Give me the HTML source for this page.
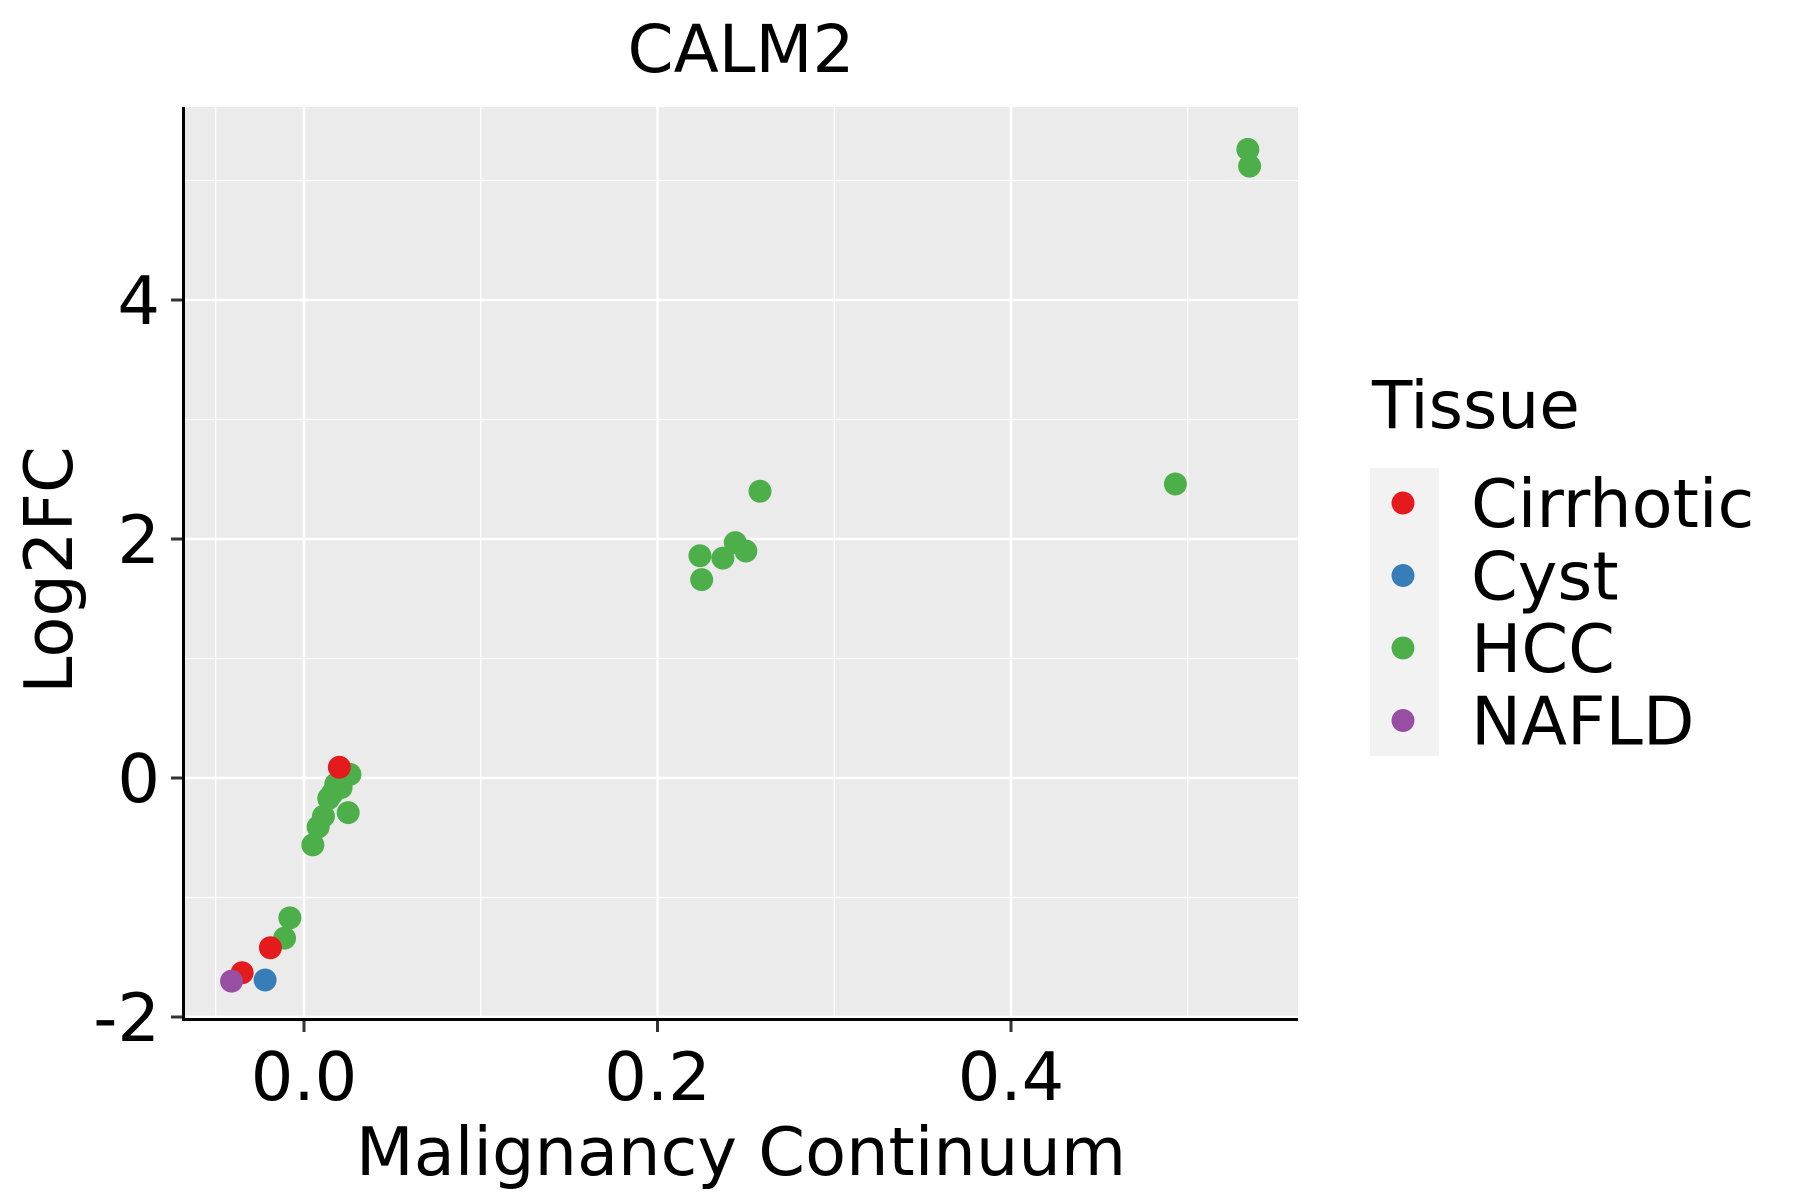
<!DOCTYPE html>
<html><head><meta charset="utf-8"><style>
html,body{margin:0;padding:0;background:#fff;}
svg{display:block;font-family:"DejaVu Sans","Liberation Sans",sans-serif;}
</style></head><body>
<svg id="chart" width="1800" height="1200" viewBox="0 0 1800 1200">
<rect x="185" y="107" width="1113" height="910" fill="#ebebeb"/>
<g id="grid"></g>
<g id="pts"></g>
<line x1="183.5" y1="107" x2="183.5" y2="1021" stroke="#000" stroke-width="3"/>
<line x1="182" y1="1019.5" x2="1298" y2="1019.5" stroke="#000" stroke-width="3"/>
<g id="ticks"></g>
<text x="741" y="72" font-size="66" text-anchor="middle">CALM2</text>
<text x="741" y="1175" font-size="67" text-anchor="middle">Malignancy Continuum</text>
<text x="72" y="570" font-size="67" text-anchor="middle" transform="rotate(-90 72 570)">Log2FC</text>
<g>
<text x="1372" y="428" font-size="66">Tissue</text>
<rect x="1370" y="468" width="69" height="288" fill="#f2f2f2"/>
<g id="leg"></g>
</g>
</svg>
<script>
const categories = ["Cirrhotic","Cyst","HCC","NAFLD"];
const colors = ["#e41a1c","#377eb8","#4daf4a","#984ea3"];
const xTicks = [0.0,0.2,0.4];
const xTickLabels = ["0.0","0.2","0.4"];
const yTicks = [-2,0,2,4];
const yTickLabels = ["-2","0","2","4"];
const hccX = [0.534,0.535,0.493,0.258,0.224,0.225,0.237,0.244,0.250,0.026,0.021,0.018,0.016,0.014,0.011,0.008,0.005,0.025,-0.008,-0.011];
const hccY = [5.26,5.12,2.46,2.40,1.86,1.66,1.84,1.97,1.90,0.03,-0.08,-0.05,-0.13,-0.17,-0.32,-0.41,-0.56,-0.29,-1.17,-1.34];
const cirX = [0.020,-0.019,-0.035];
const cirY = [0.09,-1.42,-1.63];
const cystX = [-0.022];
const cystY = [-1.69];
const nafldX = [-0.041];
const nafldY = [-1.70];

const NS="http://www.w3.org/2000/svg";
function sx(v){return 304+v*1767.5;}
function sy(v){return 778-v*119.5;}
function mk(tag,attrs,parent){const e=document.createElementNS(NS,tag);for(const k in attrs)e.setAttribute(k,attrs[k]);parent.appendChild(e);return e;}
const grid=document.getElementById('grid'), ticks=document.getElementById('ticks'), pts=document.getElementById('pts'), leg=document.getElementById('leg');
[-0.05,0.1,0.3,0.5].forEach(v=>{const x=sx(v); if(x>185&&x<1298){const l=mk('line',{x1:x,y1:107,x2:x,y2:1017,stroke:'#fff','stroke-width':1.3},grid);

}});
[-1,1,3,5].forEach(v=>{const y=sy(v);const l=mk('line',{x1:185,y1:y,x2:1298,y2:y,stroke:'#fff','stroke-width':1.3},grid);

});
xTicks.forEach((v,i)=>{const x=sx(v);const l=mk('line',{x1:x,y1:107,x2:x,y2:1017,stroke:'#fff','stroke-width':2.6},grid);


const t=mk('line',{x1:x,y1:1021,x2:x,y2:1032,stroke:'#333','stroke-width':3},ticks);


const tx=mk('text',{x:x,y:1100,'font-size':67,'text-anchor':'middle'},ticks);tx.textContent=xTickLabels[i];

});
yTicks.forEach((v,i)=>{const y=sy(v);const l=mk('line',{x1:185,y1:y,x2:1298,y2:y,stroke:'#fff','stroke-width':2.6},grid);


const t=mk('line',{x1:171,y1:y,x2:182,y2:y,stroke:'#333','stroke-width':3},ticks);


const tx=mk('text',{x:160,y:y+24,'font-size':67,'text-anchor':'end'},ticks);tx.textContent=yTickLabels[i];

});
[[hccX,hccY,2],[cirX,cirY,0],[cystX,cystY,1],[nafldX,nafldY,3]].forEach(s=>{s[0].forEach((xv,i)=>{const c=mk('circle',{cx:sx(xv),cy:sy(s[1][i]),r:11.5,fill:colors[s[2]]},pts);

});});
categories.forEach((c,i)=>{const y=503+i*72.5;const p=mk('circle',{cx:1403,cy:y,r:11.5,fill:colors[i]},leg);


const t=mk('text',{x:1471,y:y+24,'font-size':67},leg);t.textContent=c;

});
</script>
</body></html>
